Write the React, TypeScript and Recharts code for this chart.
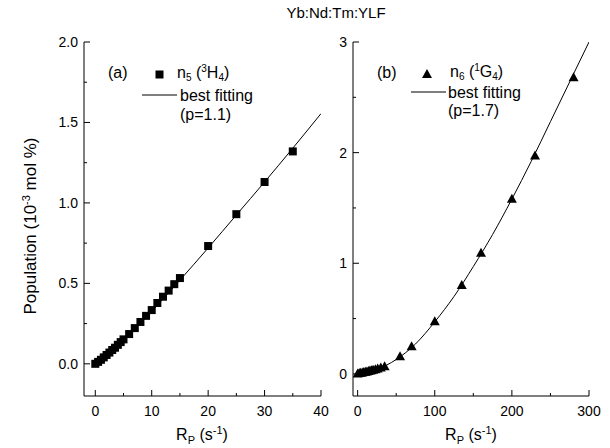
import React from 'react';
import { ComposedChart, Scatter, Line, XAxis, YAxis } from 'recharts';

// ---- data ----
const rpA = [0, 0.5, 1, 1.5, 2, 2.5, 3, 3.5, 4, 4.5, 5, 6, 7, 8, 9, 10, 11, 12, 13, 14, 15, 20, 25, 30, 35];
const n5 = [0, 0.012, 0.025, 0.04, 0.055, 0.07, 0.086, 0.1, 0.118, 0.135, 0.152, 0.185, 0.222, 0.26, 0.298, 0.334, 0.378, 0.417, 0.455, 0.495, 0.533, 0.732, 0.93, 1.13, 1.32];
const fitRpA = [0, 2.5, 5, 7.5, 10, 15, 20, 25, 30, 35, 40];
const fitA = [0, 0.068, 0.148, 0.235, 0.326, 0.52, 0.72, 0.925, 1.13, 1.34, 1.555];

const rpB = [0, 2, 4, 6, 8, 10, 12, 14, 16, 18, 20, 23, 26, 30, 35, 55, 70, 100, 135, 160, 200, 230, 280];
const n6 = [0, 0.003, 0.006, 0.009, 0.012, 0.015, 0.018, 0.021, 0.025, 0.028, 0.032, 0.038, 0.044, 0.052, 0.064, 0.155, 0.246, 0.471, 0.8, 1.09, 1.578, 1.969, 2.677];
const fitRpB = [0, 25, 50, 75, 100, 125, 150, 175, 200, 225, 250, 275, 300];
const fitB = [0, 0.04, 0.13, 0.27, 0.47, 0.7, 0.97, 1.26, 1.58, 1.92, 2.28, 2.64, 3.0];

const xTicksA = [0, 5, 10, 15, 20, 25, 30, 35, 40];
const xLabelsA = [0, 10, 20, 30, 40];
const yTicksA = [0, 0.25, 0.5, 0.75, 1, 1.25, 1.5, 1.75, 2];
const yLabelsA = [0, 0.5, 1, 1.5, 2];
const xTicksB = [0, 50, 100, 150, 200, 250, 300];
const xLabelsB = [0, 100, 200, 300];
const yTicksB = [0, 0.5, 1, 1.5, 2, 2.5, 3];
const yLabelsB = [0, 1, 2, 3];

const FONT = 'Liberation Sans, Arial, Helvetica, sans-serif';
const MAJ = 6;
const MIN = 3;

const ptsA = rpA.map((x, i) => ({ x, y: n5[i] }));
const lineA = fitRpA.map((x, i) => ({ x, y: fitA[i] }));
const ptsB = rpB.map((x, i) => ({ x, y: n6[i] }));
const lineB = fitRpB.map((x, i) => ({ x, y: fitB[i] }));

const has = (arr: number[], v: number) => arr.some((a) => Math.abs(a - v) < 1e-9);

const bottomTick = (labels: number[], fmt: (v: number) => string) => (p: any) => {
  const v = p.payload.value;
  const major = has(labels, v);
  return (
    <g>
      <line x1={p.x} x2={p.x} y1={p.y} y2={p.y - (major ? MAJ : MIN)} stroke="#000" />
      {major && (
        <text x={p.x} y={p.y + 20} textAnchor="middle" fontSize={14} fontFamily={FONT} fill="#000">
          {fmt(v)}
        </text>
      )}
    </g>
  );
};
const topTick = (labels: number[]) => (p: any) => {
  const major = has(labels, p.payload.value);
  return <line x1={p.x} x2={p.x} y1={p.y} y2={p.y + (major ? MAJ : MIN)} stroke="#000" />;
};
const leftTick = (labels: number[], fmt: (v: number) => string) => (p: any) => {
  const v = p.payload.value;
  const major = has(labels, v);
  return (
    <g>
      <line x1={p.x} x2={p.x + (major ? MAJ : MIN)} y1={p.y} y2={p.y} stroke="#000" />
      {major && (
        <text x={p.x - 6} y={p.y + 5} textAnchor="end" fontSize={14} fontFamily={FONT} fill="#000">
          {fmt(v)}
        </text>
      )}
    </g>
  );
};
const rightTick = (labels: number[]) => (p: any) => {
  const major = has(labels, p.payload.value);
  return <line x1={p.x} x2={p.x - (major ? MAJ : MIN)} y1={p.y} y2={p.y} stroke="#000" />;
};

const Square = (p: any) => <rect x={p.cx - 4} y={p.cy - 4} width={8} height={8} fill="#000" />;
const Tri = (p: any) => (
  <path d={`M${p.cx},${p.cy - 5.5} L${p.cx + 5},${p.cy + 3.5} L${p.cx - 5},${p.cy + 3.5} Z`} fill="#000" />
);

type PanelProps = {
  width: number;
  margin: any;
  yWidth: number;
  xDomain: number[];
  yDomain: number[];
  xTicks: number[];
  xLabels: number[];
  yTicks: number[];
  yLabels: number[];
  xFmt: (v: number) => string;
  yFmt: (v: number) => string;
  pts: any[];
  line: any[];
  shape: any;
};

const Panel = (q: PanelProps) => (
  <ComposedChart width={q.width} height={448} margin={q.margin}>
    <XAxis
      xAxisId="b"
      type="number"
      dataKey="x"
      domain={q.xDomain}
      ticks={q.xTicks}
      interval={0}
      allowDataOverflow
      height={30}
      tickSize={0}
      tickMargin={0}
      tickLine={false}
      axisLine={{ stroke: '#000' }}
      tick={bottomTick(q.xLabels, q.xFmt)}
    />
    <XAxis
      xAxisId="t"
      orientation="top"
      type="number"
      dataKey="x"
      domain={q.xDomain}
      ticks={q.xTicks}
      interval={0}
      allowDataOverflow
      height={0}
      tickSize={0}
      tickMargin={0}
      tickLine={false}
      axisLine={{ stroke: '#000' }}
      tick={topTick(q.xLabels)}
    />
    <YAxis
      yAxisId="l"
      type="number"
      dataKey="y"
      domain={q.yDomain}
      ticks={q.yTicks}
      interval={0}
      allowDataOverflow
      width={q.yWidth}
      tickSize={0}
      tickMargin={0}
      tickLine={false}
      axisLine={{ stroke: '#000' }}
      tick={leftTick(q.yLabels, q.yFmt)}
    />
    <YAxis
      yAxisId="r"
      orientation="right"
      type="number"
      dataKey="y"
      domain={q.yDomain}
      ticks={q.yTicks}
      interval={0}
      allowDataOverflow
      width={0}
      tickSize={0}
      tickMargin={0}
      tickLine={false}
      axisLine={{ stroke: '#000' }}
      tick={rightTick(q.yLabels)}
    />
    <Line
      xAxisId="b"
      yAxisId="l"
      data={q.line}
      dataKey="y"
      type="monotone"
      stroke="#000"
      strokeWidth={1}
      dot={false}
      isAnimationActive={false}
    />
    <Scatter xAxisId="b" yAxisId="l" data={q.pts} dataKey="y" shape={q.shape} isAnimationActive={false} />
  </ComposedChart>
);

const T = { fontFamily: FONT, fill: '#000' } as const;

export default function App() {
  return (
    <div style={{ position: 'absolute', left: 0, top: 0, width: 610, height: 448, background: '#fff' }}>
      <div style={{ position: 'absolute', left: 0, top: 0 }}>
        <Panel
          width={340}
          margin={{ top: 42, right: 19, bottom: 22, left: 40 }}
          yWidth={44}
          xDomain={[-2, 40]}
          yDomain={[-0.2, 2]}
          xTicks={xTicksA}
          xLabels={xLabelsA}
          yTicks={yTicksA}
          yLabels={yLabelsA}
          xFmt={(v) => String(v)}
          yFmt={(v) => v.toFixed(1)}
          pts={ptsA}
          line={lineA}
          shape={Square}
        />
      </div>
      <div style={{ position: 'absolute', left: 320, top: 0 }}>
        <Panel
          width={290}
          margin={{ top: 42, right: 21, bottom: 22, left: 13 }}
          yWidth={20}
          xDomain={[-6, 300]}
          yDomain={[-0.2, 3]}
          xTicks={xTicksB}
          xLabels={xLabelsB}
          yTicks={yTicksB}
          yLabels={yLabelsB}
          xFmt={(v) => String(v)}
          yFmt={(v) => String(v)}
          pts={ptsB}
          line={lineB}
          shape={Tri}
        />
      </div>
      <svg width={610} height={448} style={{ position: 'absolute', left: 0, top: 0, pointerEvents: 'none' }}>
        <text x={336} y={18} textAnchor="middle" fontSize={15} {...T}>Yb:Nd:Tm:YLF</text>
        <text transform="translate(36,226) rotate(-90)" textAnchor="middle" fontSize={17} {...T}>
          Population (10<tspan dy={-6} fontSize={11}>-3</tspan><tspan dy={6}> mol %)</tspan>
        </text>
        <text x={202} y={440} textAnchor="middle" fontSize={16} {...T}>
          R<tspan dy={4} fontSize={11}>P</tspan><tspan dy={-4}> (s</tspan><tspan dy={-6} fontSize={11}>-1</tspan><tspan dy={6}>)</tspan>
        </text>
        <text x={471} y={440} textAnchor="middle" fontSize={16} {...T}>
          R<tspan dy={4} fontSize={11}>P</tspan><tspan dy={-4}> (s</tspan><tspan dy={-6} fontSize={11}>-1</tspan><tspan dy={6}>)</tspan>
        </text>
        {/* legend (a) */}
        <text x={108} y={78} fontSize={16} {...T}>(a)</text>
        <rect x={155.5} y={70.5} width={8} height={8} fill="#000" />
        <text x={177} y={78} fontSize={16} {...T}>
          n<tspan dy={3} fontSize={10}>5</tspan><tspan dy={-3}> (</tspan><tspan dy={-6} fontSize={10}>3</tspan><tspan dy={6}>H</tspan><tspan dy={3} fontSize={10}>4</tspan><tspan dy={-3}>)</tspan>
        </text>
        <line x1={142} x2={177} y1={95} y2={95} stroke="#000" />
        <text x={180} y={101} fontSize={16} {...T}>best fitting</text>
        <text x={180} y={120} fontSize={16} {...T}>(p=1.1)</text>
        {/* legend (b) */}
        <text x={377} y={78} fontSize={16} {...T}>(b)</text>
        <path d="M427,69 L432,78 L422,78 Z" fill="#000" />
        <text x={450} y={77} fontSize={16} {...T}>
          n<tspan dy={3} fontSize={10}>6</tspan><tspan dy={-3}> (</tspan><tspan dy={-6} fontSize={10}>1</tspan><tspan dy={6}>G</tspan><tspan dy={3} fontSize={10}>4</tspan><tspan dy={-3}>)</tspan>
        </text>
        <line x1={411} x2={446} y1={92} y2={92} stroke="#000" />
        <text x={448} y={98} fontSize={16} {...T}>best fitting</text>
        <text x={448} y={116} fontSize={16} {...T}>(p=1.7)</text>
      </svg>
    </div>
  );
}
